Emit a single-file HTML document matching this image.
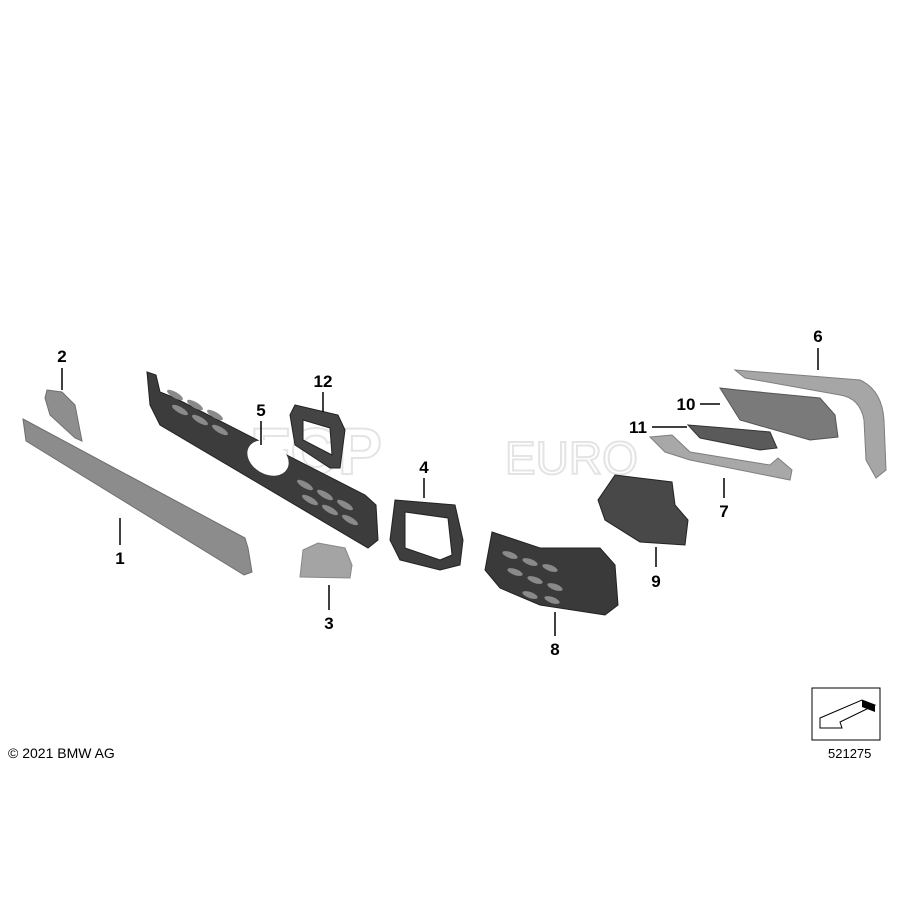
<!DOCTYPE html>
<html><head><style>
body{margin:0;background:#fff}
svg{display:block}
text{font-family:"Liberation Sans",Arial,sans-serif}
</style></head><body>
<svg width="900" height="900" viewBox="0 0 900 900" xmlns="http://www.w3.org/2000/svg">
<rect width="900" height="900" fill="#fff"/>
<!-- watermark -->
<text x="250" y="474" font-size="66" fill="none" stroke="#e4e4e4" stroke-width="2" font-weight="bold">FCP</text>
<text x="505" y="474" font-size="46" fill="none" stroke="#e4e4e4" stroke-width="2">EURO</text>
<!-- part 1 -->
<polygon points="23,419 245,538 248,548 252,572 244,575 26,441" fill="#8c8c8c" stroke="#6e6e6e"/>
<!-- part 2 -->
<polygon points="47,390 62,392 75,405 82,441 75,438 50,415 45,398" fill="#8e8e8e" stroke="#707070"/>
<!-- part 3 -->
<polygon points="303,550 318,543 345,548 352,565 350,578 300,577" fill="#a4a4a4" stroke="#888"/>
<!-- part 5 grille -->
<polygon points="147,372 156,375 160,392 175,398 365,495 376,505 378,540 368,548 160,425 150,405" fill="#3c3c3c" stroke="#222"/>
<ellipse cx="268" cy="458" rx="22" ry="16" fill="#fff" transform="rotate(30 268 458)"/>
<g fill="#8a8a8a">
<ellipse cx="175" cy="395" rx="9" ry="3" transform="rotate(30 175 395)"/>
<ellipse cx="195" cy="405" rx="9" ry="3" transform="rotate(30 195 405)"/>
<ellipse cx="215" cy="415" rx="9" ry="3" transform="rotate(30 215 415)"/>
<ellipse cx="180" cy="410" rx="9" ry="3" transform="rotate(30 180 410)"/>
<ellipse cx="200" cy="420" rx="9" ry="3" transform="rotate(30 200 420)"/>
<ellipse cx="220" cy="430" rx="9" ry="3" transform="rotate(30 220 430)"/>
<ellipse cx="305" cy="485" rx="9" ry="3" transform="rotate(30 305 485)"/>
<ellipse cx="325" cy="495" rx="9" ry="3" transform="rotate(30 325 495)"/>
<ellipse cx="345" cy="505" rx="9" ry="3" transform="rotate(30 345 505)"/>
<ellipse cx="310" cy="500" rx="9" ry="3" transform="rotate(30 310 500)"/>
<ellipse cx="330" cy="510" rx="9" ry="3" transform="rotate(30 330 510)"/>
<ellipse cx="350" cy="520" rx="9" ry="3" transform="rotate(30 350 520)"/>
</g>
<!-- part 12 -->
<path d="M295,405 L338,415 L345,430 L340,468 L330,468 L295,445 L290,415 Z M303,420 L330,428 L332,455 L303,440 Z" fill="#444" fill-rule="evenodd" stroke="#222"/>
<!-- part 4 -->
<path d="M395,500 L455,505 L463,540 L460,565 L440,570 L400,560 L390,540 Z M405,512 L448,518 L452,555 L440,560 L405,548 Z" fill="#3e3e3e" fill-rule="evenodd" stroke="#222"/>
<!-- part 8 -->
<polygon points="492,532 540,548 600,548 615,565 618,605 605,615 540,605 500,588 485,570" fill="#3a3a3a" stroke="#222"/>
<g fill="#8a8a8a">
<ellipse cx="510" cy="555" rx="8" ry="3" transform="rotate(20 510 555)"/>
<ellipse cx="530" cy="562" rx="8" ry="3" transform="rotate(20 530 562)"/>
<ellipse cx="550" cy="568" rx="8" ry="3" transform="rotate(20 550 568)"/>
<ellipse cx="515" cy="572" rx="8" ry="3" transform="rotate(20 515 572)"/>
<ellipse cx="535" cy="580" rx="8" ry="3" transform="rotate(20 535 580)"/>
<ellipse cx="555" cy="587" rx="8" ry="3" transform="rotate(20 555 587)"/>
<ellipse cx="530" cy="595" rx="8" ry="3" transform="rotate(20 530 595)"/>
<ellipse cx="552" cy="600" rx="8" ry="3" transform="rotate(20 552 600)"/>
</g>
<!-- part 9 -->
<polygon points="615,475 672,482 675,505 688,520 685,545 640,542 605,520 598,500" fill="#484848" stroke="#222"/>
<!-- part 6 -->
<path d="M735,370 L860,380 Q882,390 884,420 L886,470 L876,478 L866,460 L864,420 Q860,398 840,395 L745,378 Z" fill="#a6a6a6" stroke="#7e7e7e"/>
<!-- part 10 -->
<polygon points="720,388 738,390 820,398 835,415 838,437 810,440 740,420" fill="#7a7a7a" stroke="#555"/>
<!-- part 11 -->
<polygon points="688,425 725,428 770,432 777,448 760,450 700,438" fill="#5a5a5a" stroke="#333"/>
<!-- part 7 -->
<path d="M650,437 L672,435 L690,452 L770,465 L778,458 L792,470 L790,480 L765,475 L690,460 L665,452 Z" fill="#a8a8a8" stroke="#7e7e7e"/>
<!-- leaders -->
<g stroke="#000" stroke-width="1.5">
<line x1="120" y1="518" x2="120" y2="545"/>
<line x1="62" y1="368" x2="62" y2="390"/>
<line x1="329" y1="585" x2="329" y2="610"/>
<line x1="424" y1="478" x2="424" y2="498"/>
<line x1="261" y1="421" x2="261" y2="445"/>
<line x1="818" y1="348" x2="818" y2="370"/>
<line x1="724" y1="478" x2="724" y2="498"/>
<line x1="555" y1="612" x2="555" y2="636"/>
<line x1="656" y1="547" x2="656" y2="567"/>
<line x1="700" y1="404" x2="720" y2="404"/>
<line x1="652" y1="427" x2="687" y2="427"/>
<line x1="323" y1="392" x2="323" y2="412"/>
</g>
<g font-size="17" font-weight="bold" fill="#000" text-anchor="middle">
<text x="120" y="564">1</text>
<text x="62" y="362">2</text>
<text x="329" y="629">3</text>
<text x="424" y="473">4</text>
<text x="261" y="416">5</text>
<text x="818" y="342">6</text>
<text x="724" y="517">7</text>
<text x="555" y="655">8</text>
<text x="656" y="587">9</text>
<text x="686" y="410">10</text>
<text x="638" y="433">11</text>
<text x="323" y="387">12</text>
</g>
<text x="8" y="758" font-size="14" fill="#000">© 2021 BMW AG</text>
<rect x="812" y="688" width="68" height="52" fill="#fff" stroke="#000"/>
<polygon points="820,718 862,700 875,705 840,722 842,728 820,728" fill="#fff" stroke="#000"/>
<polygon points="862,700 875,705 875,712 862,707" fill="#000"/>
<text x="828" y="758" font-size="13" fill="#000">521275</text>
</svg>
</body></html>
